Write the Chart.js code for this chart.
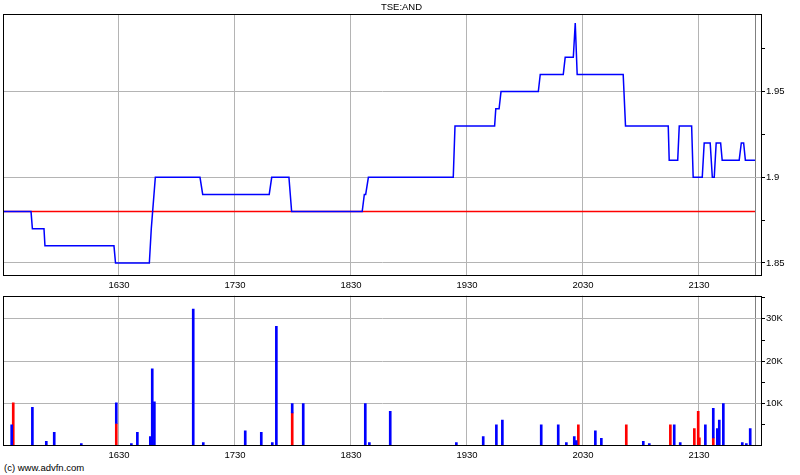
<!DOCTYPE html>
<html>
<head>
<meta charset="utf-8">
<script src="https://cdn.jsdelivr.net/npm/chart.js@4.4.1/dist/chart.umd.min.js"></script>
<style>
  html, body { margin: 0; padding: 0; background: #fff; }
  #wrap { position: relative; width: 800px; height: 475px; overflow: hidden; }
  #c1 { position: absolute; left: 0; top: 0; }
  #c2 { position: absolute; left: 0; top: 289px; }
  #copy { position: absolute; left: 4px; top: 462px; font: 9.5px "Liberation Sans", Arial, sans-serif; color: #000; line-height: 12px; }
</style>
</head>
<body>
<div id="wrap">
  <canvas id="c1" width="800" height="290"></canvas>
  <canvas id="c2" width="800" height="171"></canvas>
  <div id="copy">(c) www.advfn.com</div>
</div>
<script>
// ---- DATA (times are minutes after 15:30) ----
const chartTitle = "TSE:AND";
const startClock = { h: 15, m: 30 };
const timeTicks = [60, 120, 180, 240, 300, 360];
const lastTime = 389;
const xMax = 392.6;

const priceTimes = [0, 14.5, 15.2, 21.2, 21.7, 57.4, 58.2, 75.7, 76.7, 78.8, 101.9, 103.3, 137.7, 139.0, 147.9, 149.3, 185.8, 186.9, 187.6, 189.0, 232.9, 233.8, 254.3, 254.9, 256.6, 257.6, 276.9, 277.9, 289.8, 290.8, 295.0, 296.0, 297.0, 320.8, 322.0, 344.1, 344.6, 349.0, 349.8, 356.2, 357.0, 361.7, 362.7, 365.8, 366.9, 367.9, 368.9, 371.2, 372.0, 380.8, 381.9, 383.1, 384.0, 389.0];
const priceValues = [1.88, 1.88, 1.87, 1.87, 1.86, 1.86, 1.85, 1.85, 1.87, 1.90, 1.90, 1.89, 1.89, 1.90, 1.90, 1.88, 1.88, 1.89, 1.89, 1.90, 1.90, 1.93, 1.93, 1.94, 1.94, 1.95, 1.95, 1.96, 1.96, 1.97, 1.97, 1.99, 1.96, 1.96, 1.93, 1.93, 1.91, 1.91, 1.93, 1.93, 1.90, 1.90, 1.92, 1.92, 1.90, 1.90, 1.92, 1.92, 1.91, 1.91, 1.92, 1.92, 1.91, 1.91];
const refPrice = 1.88;
const priceTicks = [1.85, 1.875, 1.9, 1.925, 1.95, 1.975];
const priceMin = 1.8424, priceMax = 1.9953;

const volTimes = [4.5, 5.3, 15.2, 22.4, 26.5, 40.5, 58.6, 66.4, 69.5, 76.2, 77.2, 78.3, 98.4, 103.6, 125.3, 133.6, 139.3, 141.4, 149.6, 155.3, 187.4, 189.5, 200.3, 234.5, 248.4, 255.2, 258.3, 278.4, 287.2, 291.4, 295.5, 296.5, 297.6, 306.4, 309.5, 322.4, 331.2, 334.3, 345.2, 347.2, 350.3, 357.6, 359.6, 360.2, 363.3, 367.4, 369.5, 370.5, 372.6, 382.4, 384.5, 386.5];
const volTotal = [5000, 10200, 9100, 1100, 3200, 600, 10200, 600, 3200, 2200, 18200, 10400, 32300, 800, 3600, 3200, 800, 28200, 10000, 10000, 10000, 800, 8200, 800, 2200, 5000, 6100, 5000, 5000, 800, 2200, 1300, 5000, 3600, 1800, 5000, 1100, 600, 5000, 5000, 800, 4100, 8200, 1900, 5000, 8900, 4100, 6100, 10000, 800, 600, 4100];
const volRed = [0, 10200, 0, 0, 0, 0, 5300, 0, 0, 0, 0, 0, 0, 0, 0, 0, 0, 0, 7800, 0, 0, 0, 0, 0, 0, 0, 0, 0, 0, 0, 0, 0, 5000, 0, 0, 5000, 0, 0, 5000, 0, 0, 4100, 8200, 1900, 0, 1900, 0, 0, 0, 0, 0, 0];
const volTicks = [5000, 10000, 15000, 20000, 25000, 30000, 35000];
const volMax = 35450;

// ---- helpers ----
const FONT = { family: "'Liberation Sans', Arial, sans-serif", size: 9.5, weight: 'normal' };
function clockLabel(m) {
  const t = startClock.h * 60 + startClock.m + Math.round(m);
  const h = Math.floor(t / 60), mm = t % 60;
  return String(h) + String(mm).padStart(2, '0');
}
const GRID = '#b4b4b4';
const frame = {
  id: 'frame',
  afterDraw(chart) {
    const a = chart.chartArea, c = chart.ctx;
    c.save();
    c.strokeStyle = '#000';
    c.lineWidth = 1;
    c.strokeRect(Math.round(a.left) + 0.5, Math.round(a.top) + 0.5, Math.round(a.right - a.left) - 1, Math.round(a.bottom - a.top) - 1);
    c.restore();
  }
};
function xScale() {
  return {
    type: 'linear', min: 0, max: xMax, offset: false,
    afterBuildTicks(s) { s.ticks = timeTicks.concat([lastTime]).map(v => ({ value: v })); },
    afterFit(s) { s.height = 14; },
    border: { display: false },
    grid: {
      offset: false, drawTicks: false,
      color: c => (c.tick && c.tick.value === lastTime) ? '#808080' : GRID,
      lineWidth: 1
    },
    ticks: {
      autoSkip: false, maxRotation: 0, padding: 4, color: '#000', font: FONT,
      callback: v => v === lastTime ? '' : clockLabel(v)
    }
  };
}

// ---- price chart ----
const pricePts = priceTimes.map((t, i) => ({ x: t, y: priceValues[i] }));
const refPts = [{ x: priceTimes[0], y: refPrice }, { x: priceTimes[priceTimes.length - 1], y: refPrice }];
const isMajorP = v => Math.abs(v * 20 - Math.round(v * 20)) < 1e-6;

new Chart(document.getElementById('c1'), {
  type: 'line',
  data: {
    datasets: [
      { data: pricePts, borderColor: '#0000ff', borderWidth: 1.5, pointRadius: 0, tension: 0, fill: false, order: 0 },
      { data: refPts, borderColor: '#ff0000', borderWidth: 1.5, pointRadius: 0, tension: 0, fill: false, order: 1 }
    ]
  },
  options: {
    responsive: false, animation: false,
    layout: { padding: { left: 3, right: 0, top: 0, bottom: 0 } },
    plugins: {
      legend: { display: false }, tooltip: { enabled: false },
      title: { display: true, text: chartTitle, color: '#000', font: { ...FONT, weight: 'normal', lineHeight: 1.2 }, padding: { top: 2, bottom: 0.6 } }
    },
    scales: {
      x: xScale(),
      y: {
        type: 'linear', position: 'right', min: priceMin, max: priceMax,
        afterBuildTicks(s) { s.ticks = priceTicks.map(v => ({ value: v })); },
        afterFit(s) { s.width = 38; },
        border: { display: false },
        grid: {
          color: c => (c.tick && isMajorP(c.tick.value)) ? GRID : 'rgba(0,0,0,0)',
          tickColor: '#000', tickLength: 3, lineWidth: 1
        },
        ticks: {
          padding: 1, color: '#000', font: FONT,
          callback: v => isMajorP(v) ? String(Math.round(v * 100) / 100) : ''
        }
      }
    }
  },
  plugins: [frame]
});

// ---- volume chart ----
const bluePts = volTimes.map((t, i) => ({ x: t, y: [volRed[i], volTotal[i]] })).filter(p => p.y[1] > p.y[0]);
const redPts = volTimes.map((t, i) => ({ x: t, y: [0, volRed[i]] })).filter(p => p.y[1] > 0);
const isMajorV = v => v % 10000 === 0;

new Chart(document.getElementById('c2'), {
  type: 'bar',
  data: {
    datasets: [
      { data: bluePts, backgroundColor: '#0000ff', barThickness: 2, grouped: false, borderWidth: 0 },
      { data: redPts, backgroundColor: '#ff0000', barThickness: 2, grouped: false, borderWidth: 0 }
    ]
  },
  options: {
    responsive: false, animation: false,
    layout: { padding: { left: 3, right: 0, top: 1, bottom: 0 } },
    plugins: { legend: { display: false }, tooltip: { enabled: false } },
    scales: {
      x: xScale(),
      y: {
        type: 'linear', position: 'right', min: 0, max: volMax,
        afterBuildTicks(s) { s.ticks = volTicks.map(v => ({ value: v })); },
        afterFit(s) { s.width = 38; },
        border: { display: false },
        grid: {
          color: c => (c.tick && isMajorV(c.tick.value)) ? GRID : 'rgba(0,0,0,0)',
          tickColor: '#000', tickLength: 3, lineWidth: 1
        },
        ticks: {
          padding: 1, color: '#000', font: FONT,
          callback: v => isMajorV(v) ? (v / 1000) + 'K' : ''
        }
      }
    }
  },
  plugins: [frame]
});
</script>
</body>
</html>
